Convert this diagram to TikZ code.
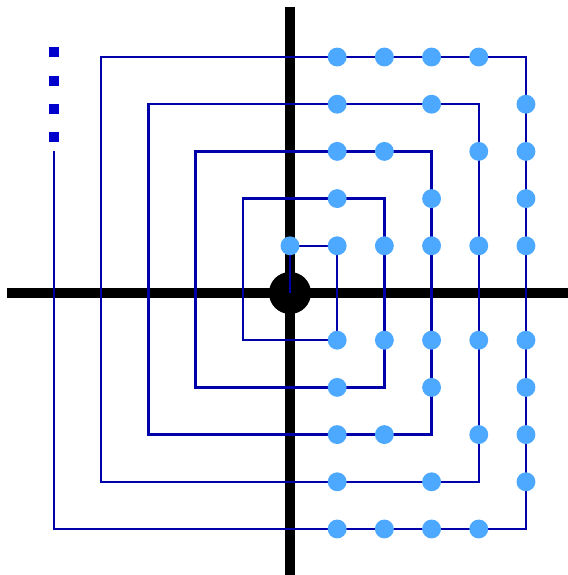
\documentclass[tikz,border=0pt]{standalone}
\usepackage{xcolor}
\usepackage{tikz}
\definecolor{pathblue}{RGB}{0,0,170}
\definecolor{markblue}{RGB}{0,0,205}
\definecolor{dotblue}{RGB}{77,168,255}

\begin{document}
\begin{tikzpicture}[axis/.style={line width=6pt}, spiral/.style={draw=pathblue, line width=1.5pt}, dot/.style={fill=dotblue}, more/.style={fill=markblue}]
\useasboundingbox (-6.144,-5.975) rectangle (5.890,6.208);
% axes and origin
\draw[axis] (-6,0) -- (5.890,0);
\draw[axis] (0,-5.975) -- (0,6.06);
\fill (0,0) circle (0.445);
% the square spiral
\draw[spiral] (0,0) -- (0,1)
  \foreach \n in {1,...,4}{ -- (\n,\n) -- (\n,-\n) -- (-\n,-\n) -- ({-\n},{\n+1}) }
  -- (5,5) -- (5,-5) -- (-5,-5) -- (-5,3);
% marked points
\fill[dot] (0,1) circle (0.2);
\foreach \x in {1,...,5}
  \foreach \y in {-5,...,-1,1,2,...,5}{
    \pgfmathtruncatemacro\g{gcd(\x,abs(\y))}
    \ifnum\g=1 \fill[dot] (\x,\y) circle (0.2); \fi
  }
% continuation marks
\foreach \y in {3.3,3.9,4.5,5.1}
  \fill[more] (-5.105,\y-0.105) rectangle ++(0.21,0.21);
\end{tikzpicture}
\end{document}
